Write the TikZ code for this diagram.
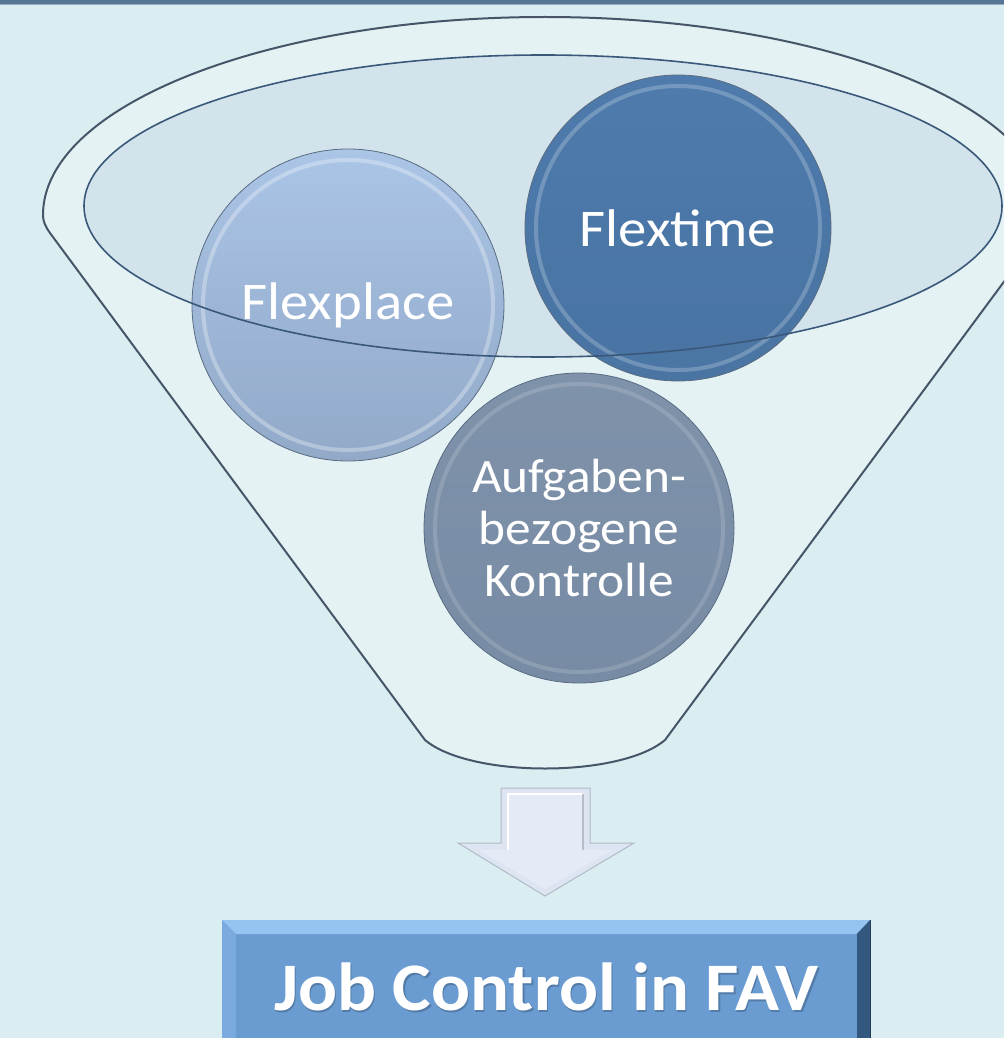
\documentclass[tikz,border=0pt]{standalone}
\usepackage{fontspec}
\setmainfont{Carlito}
\definecolor{bgc}{RGB}{218,237,240}
\definecolor{topln}{RGB}{86,118,150}
\definecolor{funfill}{RGB}{228,242,244}
\definecolor{funline}{RGB}{70,86,104}
\definecolor{ellfill}{RGB}{211,227,235}
\definecolor{ellline}{RGB}{58,88,122}
\definecolor{fpTop}{RGB}{166,194,230}
\definecolor{fpBot}{RGB}{138,162,196}
\definecolor{ftTop}{RGB}{64,112,166}
\definecolor{ftBot}{RGB}{58,104,155}
\definecolor{agTop}{RGB}{116,136,162}
\definecolor{agBot}{RGB}{108,129,156}
\definecolor{rimc}{RGB}{90,108,130}
\definecolor{boxc}{RGB}{106,156,210}
\definecolor{boxtop}{RGB}{150,196,240}
\definecolor{boxleft}{RGB}{122,170,222}
\definecolor{boxright}{RGB}{50,88,128}
\definecolor{arrfill}{RGB}{220,229,241}
\definecolor{arrin}{RGB}{228,235,246}
\definecolor{arrline}{RGB}{176,186,200}
\newcommand{\wide}[1]{\scalebox{1.07}[1]{#1}}
\tikzset{
  bubble/.style={circle, minimum size=#1, inner sep=0pt, text=white, align=center,
                 draw=rimc, line width=0.8pt, fill opacity=0.9, text opacity=1},
  funnelshape/.style={fill=funfill, draw=funline, line width=2pt},
  rimring/.style={white, opacity=0.3, line width=4pt},
  lbl/.style={font=\fontsize{53}{56}\selectfont},
  lblsmall/.style={font=\fontsize{48}{52}\selectfont},
  jobbox/.style={fill=boxc, inner sep=0pt},
  jobtext/.style={text=white, font=\fontsize{68}{72}\selectfont\bfseries}
}
\begin{document}
\begin{tikzpicture}[x=1pt,y=-1pt]
\useasboundingbox (0,0) rectangle (1004,1038);
\clip (0,0) rectangle (1004,1038);
\fill[bgc] (0,0) rectangle (1004,1038);
\fill[topln] (0,0) rectangle (1004,4);
\fill[topln!60!white] (0,4) rectangle (1004,5.5);
% funnel
\draw[funnelshape] (50,233) .. controls (45,226) and (43,221) .. (43,215)
   arc[start angle=180, end angle=360, x radius=502, y radius=198]
   .. controls (1047,221) and (1045,226) .. (1040,233)
   -- (665,740) .. controls (620,778) and (470,778) .. (425,740) -- cycle;
% inner ellipse fill
\fill[ellfill] (543,206) ellipse[x radius=459, y radius=151];
% circles
\node[bubble=312pt, top color=fpTop, bottom color=fpBot, lbl] (flexplace) at (348,305) {\wide{Flexplace}};
\draw[rimring] (flexplace.center) circle[radius=145];
\node[bubble=306pt, top color=ftTop, bottom color=ftBot, lbl] (flextime) at (678,228) {\wide{Flextime}};
\draw[rimring, opacity=0.22] (flextime.center) circle[radius=142];
\node[bubble=310pt, top color=agTop, bottom color=agBot, lblsmall] (aufgaben) at (579,528) {\wide{Aufgaben-}\\\wide{bezogene}\\\wide{Kontrolle}};
\draw[rimring, opacity=0.15] (aufgaben.center) circle[radius=144];
% inner ellipse outline
\draw[ellline, line width=1.6pt] (543,206) ellipse[x radius=459, y radius=151];
% arrow
\coordinate (a1) at (501,788);
\draw[fill=arrfill, draw=arrline, line width=1pt] (a1) -- (590,788) -- (590,843) -- (634,843) -- (545,896) -- (458,843) -- (501,843) -- cycle;
\fill[arrin] (508,794) -- (583,794) -- (583,850) -- (612,850) -- (545,889) -- (479,850) -- (508,850) -- cycle;
\draw[white, line width=1.5pt] (508,850) -- (508,794) -- (583,794);
\draw[arrline!80!black, opacity=0.5, line width=1.5pt] (583,794) -- (583,850);
% job box
\node[jobbox, anchor=north west, minimum width=648pt, minimum height=134pt] (job) at (222,920) {};
\fill[boxtop] (222,920) -- (870,920) -- (856,934) -- (236,934) -- cycle;
\fill[boxleft] (222,920) -- (236,934) -- (236,1060) -- (222,1060) -- cycle;
\fill[boxright] (870,920) -- (870,1060) -- (857,1060) -- (857,934) -- cycle;
\draw[boxright!70!black, line width=1pt] (870,920) -- (870,1060);
\node[jobtext, text=black, opacity=0.2] at ([shift={(1.5,1.5)}]job.center) {\wide{Job Control in FAV}};
\node[jobtext] (jobtext) at (job.center) {\wide{Job Control in FAV}};
\end{tikzpicture}
\end{document}
